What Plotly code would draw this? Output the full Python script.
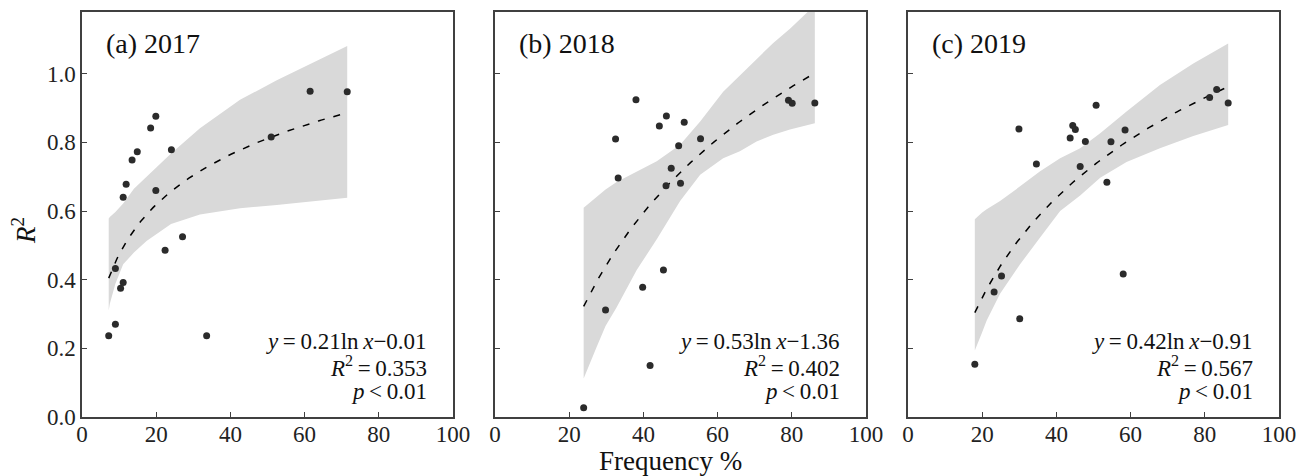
import numpy as np
import plotly.graph_objects as go

# ---- observations (frequency %, R^2) ----
x_2017 = [7.2, 9.0, 9.0, 10.4, 11.1, 11.1, 11.9, 13.5, 14.9, 18.5, 19.9, 19.9, 22.4, 24.1, 27.1, 33.6, 51.0, 61.5, 71.5]
y_2017 = [0.237, 0.270, 0.433, 0.375, 0.392, 0.640, 0.678, 0.749, 0.773, 0.842, 0.876, 0.660, 0.486, 0.779, 0.525, 0.237, 0.816, 0.949, 0.948]

x_2018 = [23.9, 29.8, 32.5, 33.2, 38.0, 39.8, 41.8, 44.3, 45.4, 46.2, 46.1, 47.5, 49.5, 50.0, 51.0, 55.4, 79.1, 80.1, 86.2]
y_2018 = [0.027, 0.312, 0.810, 0.696, 0.924, 0.378, 0.150, 0.848, 0.428, 0.877, 0.674, 0.725, 0.790, 0.681, 0.859, 0.811, 0.923, 0.914, 0.915]

x_2019 = [18.0, 23.2, 25.2, 29.9, 30.1, 34.6, 43.7, 44.4, 45.1, 46.4, 47.8, 50.7, 53.6, 54.7, 58.0, 58.5, 81.3, 83.2, 86.3]
y_2019 = [0.154, 0.364, 0.411, 0.839, 0.286, 0.737, 0.813, 0.849, 0.838, 0.730, 0.803, 0.908, 0.684, 0.802, 0.417, 0.836, 0.931, 0.954, 0.915]

# ---- fitted models y = a*ln(x) + b ----
fit_a = [0.21, 0.53, 0.42]
fit_b = [-0.01, -1.36, -0.91]
fit_r2 = ["0.353", "0.402", "0.567"]

# ---- confidence bands ----
band_x_2017 = [7.2, 7.5, 9.0, 11.1, 14.0, 17.4, 24.0, 31.8, 42.6, 52.5, 62.0, 71.5]
band_hi_2017 = [0.578, 0.583, 0.597, 0.622, 0.665, 0.700, 0.768, 0.841, 0.924, 0.981, 1.030, 1.081]
band_lo_2017 = [0.310, 0.330, 0.388, 0.445, 0.479, 0.513, 0.562, 0.590, 0.608, 0.618, 0.628, 0.639]

band_x_2018 = [23.9, 27.4, 29.8, 32.8, 38.2, 43.6, 49.9, 55.3, 61.5, 66.0, 70.5, 75.0, 79.5, 86.2]
band_hi_2018 = [0.610, 0.640, 0.663, 0.685, 0.716, 0.745, 0.793, 0.861, 0.948, 0.995, 1.044, 1.090, 1.131, 1.200]
band_lo_2018 = [0.112, 0.204, 0.265, 0.320, 0.428, 0.518, 0.629, 0.706, 0.754, 0.774, 0.803, 0.822, 0.838, 0.856]

band_x_2019 = [18.0, 19.9, 21.2, 24.8, 30.2, 35.6, 41.0, 46.4, 51.8, 58.9, 67.9, 76.9, 86.3]
band_hi_2019 = [0.576, 0.595, 0.605, 0.629, 0.672, 0.716, 0.754, 0.783, 0.827, 0.890, 0.967, 1.030, 1.088]
band_lo_2019 = [0.194, 0.245, 0.281, 0.359, 0.445, 0.523, 0.600, 0.645, 0.697, 0.743, 0.783, 0.819, 0.851]

panel_titles = ["(a) 2017", "(b) 2018", "(c) 2019"]
x_ticks = [0, 20, 40, 60, 80, 100]
y_ticks = [0.0, 0.2, 0.4, 0.6, 0.8, 1.0]

FONT = "Liberation Serif, Times New Roman, serif"
AXIS_COLOR = "#404040"
DOT_COLOR = "#2b2b2b"
BAND_COLOR = "#d9d9d9"
THIN = "\u2009"

panels = [
    (x_2017, y_2017, band_x_2017, band_hi_2017, band_lo_2017),
    (x_2018, y_2018, band_x_2018, band_hi_2018, band_lo_2018),
    (x_2019, y_2019, band_x_2019, band_hi_2019, band_lo_2019),
]
domains = [[0.0, 0.3099], [0.3450, 0.6550], [0.6901, 1.0]]

fig = go.Figure()

for i, (px, py, bx, bhi, blo) in enumerate(panels):
    xa = "x" if i == 0 else f"x{i + 1}"
    ya = "y" if i == 0 else f"y{i + 1}"

    # shaded confidence band
    fig.add_trace(go.Scatter(
        x=list(bx) + list(bx)[::-1],
        y=list(bhi) + list(blo)[::-1],
        fill="toself", fillcolor=BAND_COLOR, mode="lines",
        line=dict(width=0, color=BAND_COLOR),
        hoverinfo="skip", showlegend=False, xaxis=xa, yaxis=ya,
    ))

    # logarithmic fit
    xs = np.linspace(min(px), max(px), 120)
    ys = fit_a[i] * np.log(xs) + fit_b[i]
    fig.add_trace(go.Scatter(
        x=xs, y=ys, mode="lines",
        line=dict(color="black", width=1.5, dash="7px,9px"),
        showlegend=False, xaxis=xa, yaxis=ya,
    ))

    # observations
    fig.add_trace(go.Scatter(
        x=px, y=py, mode="markers",
        marker=dict(size=7, color=DOT_COLOR),
        showlegend=False, xaxis=xa, yaxis=ya,
    ))

    axis_common = dict(
        showline=True, linecolor=AXIS_COLOR, linewidth=1.5, mirror=True,
        ticks="inside", ticklen=5, tickwidth=1.2, tickcolor=AXIS_COLOR,
        showgrid=False, zeroline=False,
        tickfont=dict(family=FONT, size=23, color="#222222"),
    )
    xkey = "xaxis" if i == 0 else f"xaxis{i + 1}"
    ykey = "yaxis" if i == 0 else f"yaxis{i + 1}"
    fig.layout[xkey] = dict(
        axis_common, domain=domains[i], range=[0, 100],
        tickvals=x_ticks, ticktext=[str(v) for v in x_ticks],
        anchor=ya, ticklabelstandoff=-4,
    )
    fig.layout[ykey] = dict(
        axis_common, domain=[0, 1], range=[0, 1.18],
        tickvals=y_ticks, ticktext=[f"{v:.1f}" for v in y_ticks],
        showticklabels=(i == 0), anchor=xa,
    )

    # panel label
    fig.add_annotation(
        x=5.9, y=1.087, xref=xa, yref=ya, text=panel_titles[i],
        showarrow=False, xanchor="left", yanchor="middle",
        font=dict(family=FONT, size=28, color="#111111"),
    )

    # equation block
    a_txt = f"{fit_a[i]:.2f}"
    b_val = fit_b[i]
    sign = "−" if b_val < 0 else "+"
    eq_lines = [
        f"<i>y</i>{THIN}={THIN}{a_txt}ln{THIN}<i>x</i>{sign}{abs(b_val):.2f}",
        f"<i>R</i><sup>2</sup>{THIN}={THIN}{fit_r2[i]}",
        f"<i>p</i>{THIN}&lt;{THIN}0.01",
    ]
    for txt, yy in zip(eq_lines, [0.221, 0.146, 0.073]):
        fig.add_annotation(
            x=93.6, y=yy, xref=xa, yref=ya, text=txt,
            showarrow=False, xanchor="right", yanchor="middle",
            font=dict(family=FONT, size=23, color="#111111"),
        )

# shared axis titles
fig.add_annotation(
    x=(24 - 82) / 1197, y=(476 - 59 - 230) / 407, xref="paper", yref="paper",
    text="<i>R</i><sup>2</sup>", showarrow=False, textangle=-90,
    xanchor="center", yanchor="middle",
    font=dict(family=FONT, size=27, color="#111111"),
)
fig.add_annotation(
    x=(670 - 82) / 1197, y=(476 - 59 - 461) / 407, xref="paper", yref="paper",
    text="Frequency %", showarrow=False, xanchor="center", yanchor="middle",
    font=dict(family=FONT, size=27, color="#111111"),
)

fig.update_layout(
    width=1307, height=476,
    margin=dict(l=82, r=28, t=10, b=59),
    paper_bgcolor="white", plot_bgcolor="white",
    font=dict(family=FONT),
)

fig.write_html("out.html")
